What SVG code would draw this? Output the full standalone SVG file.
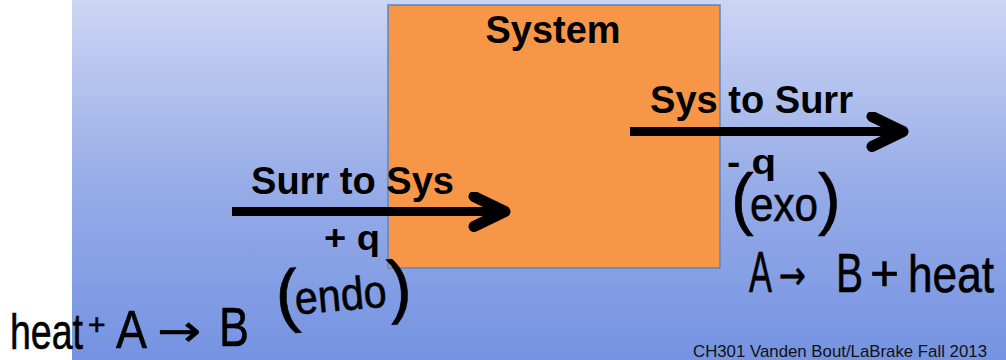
<svg xmlns="http://www.w3.org/2000/svg" width="1006" height="360" viewBox="0 0 1006 360">
<defs>
<linearGradient id="bg" x1="0" y1="0" x2="0" y2="1">
<stop offset="0" stop-color="#ccd6f3"/>
<stop offset="0.5" stop-color="#98ade8"/>
<stop offset="1" stop-color="#7593e2"/>
</linearGradient>
<marker id="chev" viewBox="-40 -20 46 40" refX="0" refY="0" markerWidth="46" markerHeight="40" markerUnits="userSpaceOnUse" orient="auto">
<path d="M-31 -15 L0 0 L-31 15" fill="none" stroke="#000" stroke-width="11" stroke-linecap="round" stroke-linejoin="round"/>
</marker>
<style>
.lbl{font-family:"Liberation Sans",Arial,sans-serif;font-weight:bold;fill:#000}
.hand{font-family:"Liberation Sans",Arial,sans-serif;fill:#000;stroke:#000;stroke-width:0.6}
.arr{font-family:"DejaVu Sans",sans-serif}
.foot{font-family:"Liberation Sans",Arial,sans-serif;fill:#111;font-size:17px}
.conn{stroke:#000;stroke-width:9;fill:none;marker-end:url(#chev)}
</style>
</defs>
<rect x="0" y="0" width="1006" height="360" fill="#fff"/>
<rect x="72" y="0" width="934" height="360" fill="url(#bg)"/>
<g id="system">
<rect x="388" y="5" width="332" height="263" fill="#f79646" stroke="#5b86c4" stroke-width="1.5"/>
<text class="lbl" x="553" y="43" font-size="39" text-anchor="middle" textLength="135" lengthAdjust="spacingAndGlyphs">System</text>
</g>
<g id="connectors">
<path class="conn" d="M232 211.5 H505"/>
<path class="conn" d="M630 131.5 H903"/>
</g>
<g id="label-surr-to-sys">
<text class="lbl" x="251" y="194" font-size="39" textLength="203" lengthAdjust="spacingAndGlyphs">Surr to Sys</text>
<text class="lbl" x="324" y="250" font-size="35" textLength="56" lengthAdjust="spacingAndGlyphs">+ q</text>
</g>
<g id="label-sys-to-surr">
<text class="lbl" x="650" y="113" font-size="39" textLength="203" lengthAdjust="spacingAndGlyphs">Sys to Surr</text>
<text class="lbl" x="727" y="174" font-size="35" textLength="49" lengthAdjust="spacingAndGlyphs">- q</text>
</g>
<g id="handwriting">
<text class="hand" y="222"><tspan x="731" font-size="68">(</tspan><tspan x="750" y="221" font-size="48" textLength="68" lengthAdjust="spacingAndGlyphs">exo</tspan><tspan x="818" y="222" font-size="68">)</tspan></text>
<text class="hand" y="292"><tspan x="749" font-size="58" textLength="23" lengthAdjust="spacingAndGlyphs">A</tspan><tspan class="arr" x="779" y="289" font-size="40" textLength="27" lengthAdjust="spacingAndGlyphs">→</tspan><tspan x="836" y="292" font-size="56" textLength="27" lengthAdjust="spacingAndGlyphs">B</tspan><tspan x="870" y="290" font-size="50" textLength="29" lengthAdjust="spacingAndGlyphs">+</tspan><tspan x="908" y="292" font-size="52" textLength="86" lengthAdjust="spacingAndGlyphs">heat</tspan></text>
<g transform="rotate(-5 346 300)">
<text class="hand" y="314"><tspan x="276" font-size="70">(</tspan><tspan x="295" y="310" font-size="46" textLength="92" lengthAdjust="spacingAndGlyphs">endo</tspan><tspan x="389" y="314" font-size="70">)</tspan></text>
</g>
<text class="hand" y="349"><tspan x="10" font-size="50" textLength="73" lengthAdjust="spacingAndGlyphs">heat</tspan><tspan x="88" y="335" font-size="30">+</tspan><tspan x="116" y="348" font-size="54" textLength="31" lengthAdjust="spacingAndGlyphs">A</tspan><tspan class="arr" x="157" y="346" font-size="44" textLength="44" lengthAdjust="spacingAndGlyphs">→</tspan><tspan x="219" y="346" font-size="56" textLength="30" lengthAdjust="spacingAndGlyphs">B</tspan></text>
</g>
<text class="foot" x="693" y="357" textLength="294" lengthAdjust="spacingAndGlyphs">CH301 Vanden Bout/LaBrake  Fall 2013</text>
</svg>
